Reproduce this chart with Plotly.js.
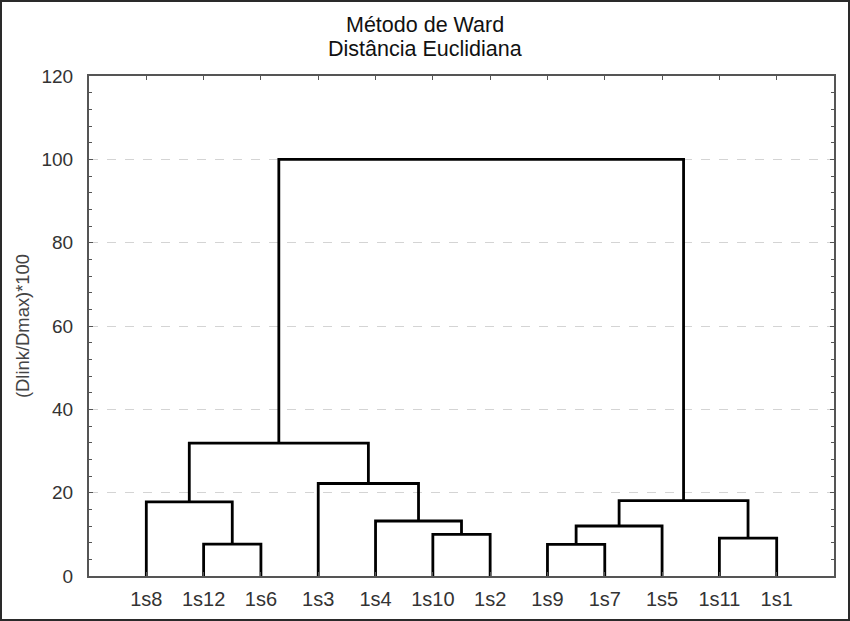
<!DOCTYPE html>
<html>
<head>
<meta charset="utf-8">
<script src="https://cdn.plot.ly/plotly-3.0.1.min.js"></script>
<style>
  html, body { margin: 0; padding: 0; background: #fff; }
  #chart { width: 850px; height: 621px; }
  #frame { position: fixed; left: 0; top: 0; width: 850px; height: 621px; box-sizing: border-box; border: 2px solid #2a2a2a; pointer-events: none; }
</style>
</head>
<body>
<div id="chart"></div>
<div id="frame"></div>
<script>
// Leaves in dendrogram order
const leaves = ['1s8', '1s12', '1s6', '1s3', '1s4', '1s10', '1s2', '1s9', '1s7', '1s5', '1s11', '1s1'];
// Linkage: node ids 0..11 are leaves; each merge creates node 12, 13, ...
const mergeLeft   = [1,  0,    5,    4,    3,    13,   7,   18,   10,  19,   17];
const mergeRight  = [2,  12,   6,    14,   15,   16,   8,   9,    11,  20,   21];
const mergeHeight = [7.65, 17.8, 10.0, 13.2, 22.2, 31.9, 7.6, 12.0, 9.1, 18.1, 100];

const yTicks = [0, 20, 40, 60, 80, 100, 120];
const titleLines = ['Método de Ward', 'Distância Euclidiana'];

// node positions
const nodeX = leaves.map((_, i) => i + 1);
const nodeY = leaves.map(() => 0);
const xs = [], ys = [];
for (let k = 0; k < mergeHeight.length; k++) {
  const a = mergeLeft[k], b = mergeRight[k], h = mergeHeight[k];
  xs.push(nodeX[a], nodeX[a], nodeX[b], nodeX[b], null);
  ys.push(nodeY[a], h, h, nodeY[b], null);
  nodeX.push((nodeX[a] + nodeX[b]) / 2);
  nodeY.push(h);
}

const trace = {
  type: 'scatter', mode: 'lines', x: xs, y: ys,
  line: { color: '#000', width: 2.8 }, hoverinfo: 'skip', showlegend: false
};

const font = 'Liberation Sans, Arial, sans-serif';
const layout = {
  width: 850, height: 621,
  margin: { l: 89, r: 16, t: 76, b: 45 },
  paper_bgcolor: '#fff', plot_bgcolor: '#fff',
  font: { family: font, color: '#333' },
  annotations: [
    { text: titleLines[0], xref: 'paper', x: 0.451, xanchor: 'center', yref: 'paper', y: 1.103, yanchor: 'middle',
      showarrow: false, font: { family: font, size: 21.5, color: '#111' } },
    { text: titleLines[1], xref: 'paper', x: 0.451, xanchor: 'center', yref: 'paper', y: 1.055, yanchor: 'middle',
      showarrow: false, font: { family: font, size: 21.5, color: '#111' } }
  ],
  xaxis: {
    range: [0, 13],
    tickmode: 'array', tickvals: leaves.map((_, i) => i + 1), ticktext: leaves,
    ticks: 'inside', ticklen: 4, tickcolor: '#555', tickwidth: 1,
    showline: true, linecolor: '#555', linewidth: 2, mirror: 'ticks',
    showgrid: false, zeroline: false,
    tickfont: { family: font, size: 20, color: '#333' },
    ticklabelstandoff: 4
  },
  yaxis: {
    range: [0, 120],
    tickmode: 'array', tickvals: yTicks, ticktext: yTicks.map(String),
    ticks: 'inside', ticklen: 4, tickcolor: '#555', tickwidth: 1,
    minor: { dtick: 4, ticks: 'inside', ticklen: 3, tickcolor: '#555', showgrid: false },
    showline: true, linecolor: '#555', linewidth: 2, mirror: 'ticks',
    showgrid: true, gridcolor: '#d4d4d4', griddash: 'dash', gridwidth: 1,
    zeroline: false,
    tickfont: { family: font, size: 19, color: '#333' },
    ticklabelstandoff: 10,
    title: { text: '(Dlink/Dmax)*100', font: { family: font, size: 18.4, color: '#444' }, standoff: 7 }
  }
};

Plotly.newPlot('chart', [trace], layout, { displayModeBar: false, staticPlot: true });
</script>
</body>
</html>
